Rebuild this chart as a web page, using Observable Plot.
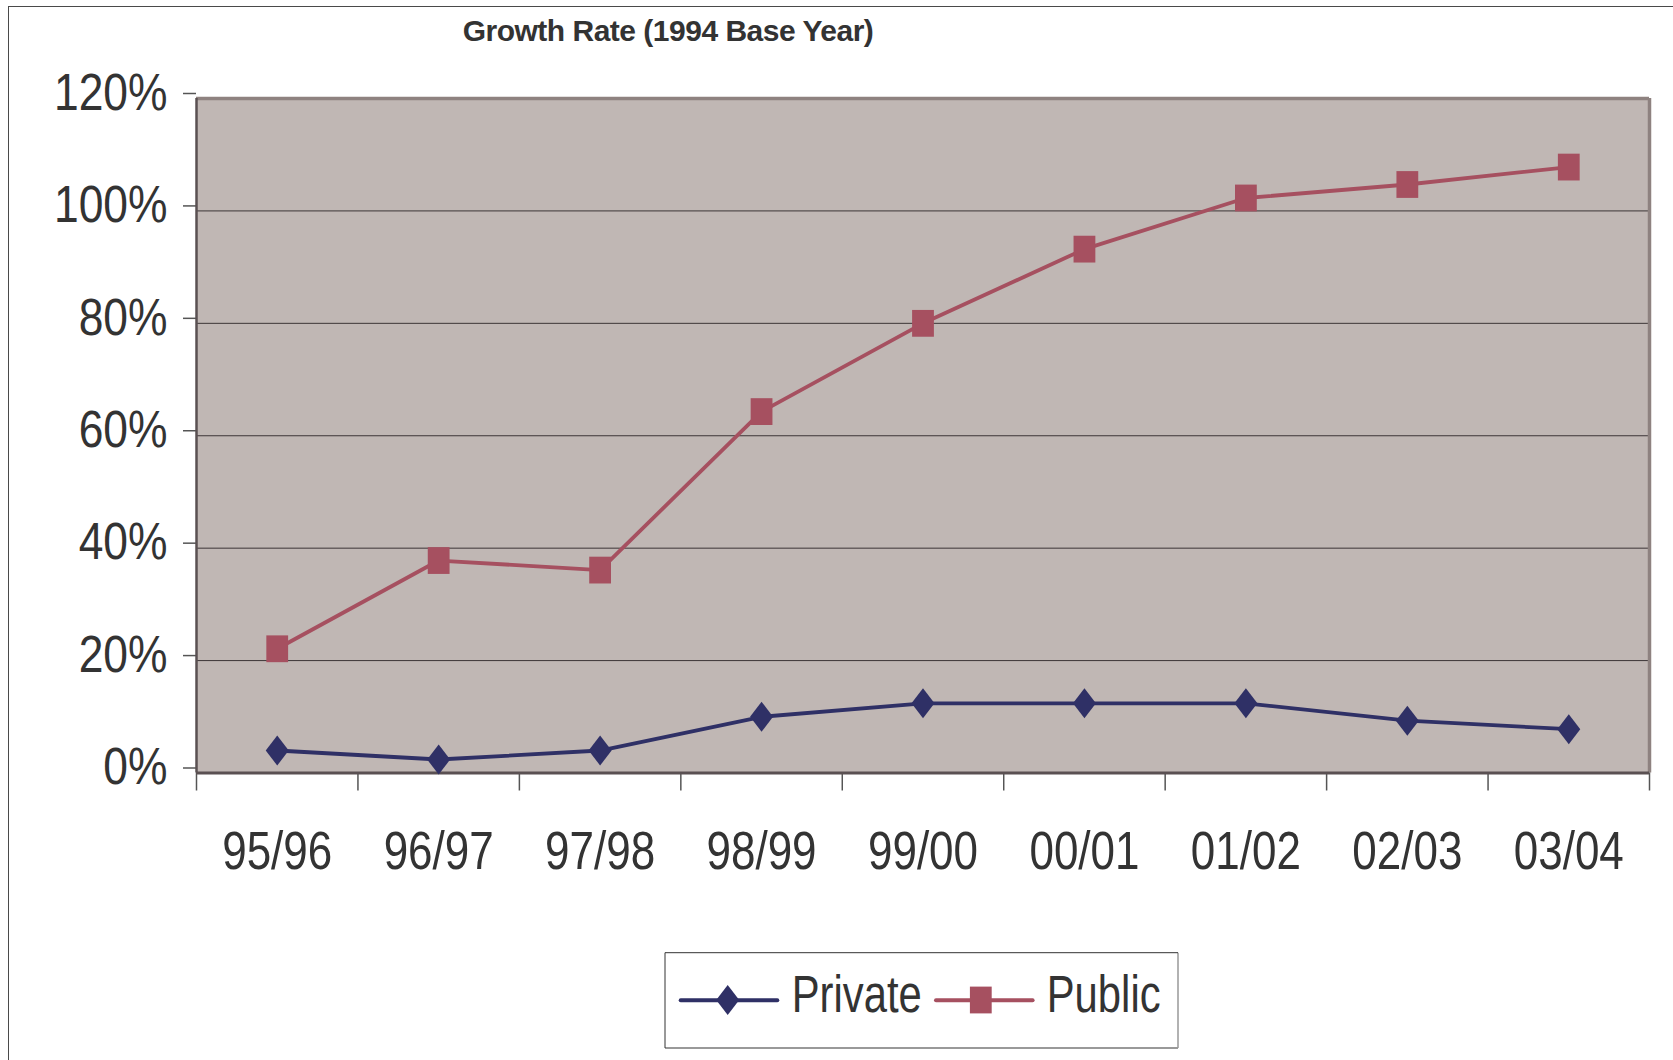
<!DOCTYPE html>
<html>
<head>
<meta charset="utf-8">
<script src="https://cdn.jsdelivr.net/npm/d3@7"></script>
<script src="https://cdn.jsdelivr.net/npm/@observablehq/plot@0.6"></script>
<style>
  html, body { margin: 0; padding: 0; background: #fff; overflow: hidden; }
  body { width: 1673px; height: 1060px; position: relative; font-family: "Liberation Sans", Arial, Helvetica, sans-serif; }
  #frame { position: absolute; left: 8px; top: 6px; width: 2000px; height: 2000px;
           border-left: 1.5px solid #4a4a4a; border-top: 1.5px solid #4a4a4a; }
  #title { position: absolute; left: 0; top: 15.8px; width: 1336px; text-align: center;
           font: bold 30px/1 "Liberation Sans", Arial, Helvetica, sans-serif; letter-spacing: -0.5px; color: #333; }
  #chart { position: absolute; left: 0; top: 60px; }
  #legend { position: absolute; left: 660px; top: 945px; }
</style>
</head>
<body>
<div id="frame"></div>
<div id="title">Growth Rate (1994 Base Year)</div>
<div id="chart"></div>
<svg id="legend" width="525" height="112"></svg>
<script>
// Academic years and growth relative to the 1994 base year (%)
const periods = ["95/96", "96/97", "97/98", "98/99", "99/00", "00/01", "01/02", "02/03", "03/04"];
const privateGrowth = [4.0, 2.4, 4.0, 10.0, 12.4, 12.4, 12.4, 9.3, 7.8];
const publicGrowth = [22.1, 37.8, 36.1, 64.3, 80.0, 93.2, 102.3, 104.7, 107.8];
const seriesNames = ["Private", "Public"];
const seriesColors = ["#2f3066", "#a65060"];
const yTicks = [0, 20, 40, 60, 80, 100, 120];

// Each period occupies one unit band; points sit at the band centre
const rows = periods.flatMap((period, i) => [
  {period, pos: i + 0.5, series: "Private", value: privateGrowth[i]},
  {period, pos: i + 0.5, series: "Public", value: publicGrowth[i]}
]);
const boundaries = periods.map((_, i) => i).concat(periods.length);
const centres = periods.map((_, i) => i + 0.5);

// Marker shapes: a tall diamond and a tall square block
const diamond = {draw(ctx) { ctx.moveTo(0, -15); ctx.lineTo(11.5, 0); ctx.lineTo(0, 15); ctx.lineTo(-11.5, 0); ctx.closePath(); }};
const block = {draw(ctx) { ctx.rect(-10.9, -13.4, 21.8, 26.8); }};

const chart = Plot.plot({
  width: 1673,
  height: 840,
  marginTop: 38,
  marginBottom: 127.5,
  marginLeft: 196,
  marginRight: 24,
  style: {background: "transparent", fontFamily: "'Liberation Sans', Arial, Helvetica, sans-serif", color: "#333"},
  x: {domain: [0, periods.length]},
  y: {domain: [0, 120]},
  color: {domain: seriesNames, range: seriesColors},
  symbol: {domain: seriesNames, range: [diamond, block]},
  marks: [
    Plot.frame({fill: "#c0b7b4", stroke: null}),
    Plot.ruleY(yTicks.slice(1, -1), {stroke: "#3c3537", strokeWidth: 1}),
    Plot.ruleY([120], {stroke: "#8e8280", strokeWidth: 3.5}),
    Plot.ruleX([periods.length], {stroke: "#8e8280", strokeWidth: 3.5}),
    Plot.axisY({ticks: yTicks, tickSize: 13, tickPadding: 16, tickFormat: d => d + "%", fontSize: 51, dy: -5, strokeWidth: 1.5, stroke: "#555", fill: "#333", label: null}),
    Plot.axisX({ticks: boundaries, tickSize: 18, tickFormat: () => "", strokeWidth: 1.5, stroke: "#555", label: null}),
    Plot.axisX({ticks: centres, tickSize: 0, tickPadding: 58, tickFormat: d => periods[Math.floor(d)], fontSize: 53, fill: "#333", label: null}),
    Plot.ruleX([0], {stroke: "#5a5052", strokeWidth: 2.5}),
    Plot.ruleY([0], {stroke: "#5a5052", strokeWidth: 3}),
    Plot.line(rows, {x: "pos", y: "value", z: "series", stroke: "series", strokeWidth: 3.8}),
    Plot.dot(rows, {x: "pos", y: "value", symbol: "series", fill: "series", stroke: null})
  ]
});
document.getElementById("chart").append(chart);

// Narrow the axis lettering horizontally
const narrow = (selector, k) => d3.select(chart).selectAll(selector)
  .attr("transform", function () { return (this.getAttribute("transform") || "") + ` scale(${k},1)`; });
narrow('g[aria-label="y-axis tick label"] text', 0.87);
narrow('g[aria-label="x-axis tick label"] text', 0.83);

// Legend box
const color = chart.scale("color");
const lg = d3.select("#legend");
lg.append("rect").attr("x", 5).attr("y", 7.7).attr("width", 513).attr("height", 95.3).attr("fill", "#fff");
lg.append("line").attr("x1", 5).attr("y1", 103).attr("x2", 518).attr("y2", 103).attr("stroke", "#999").attr("stroke-width", 2);
lg.append("line").attr("x1", 518).attr("y1", 7.7).attr("x2", 518).attr("y2", 103).attr("stroke", "#999").attr("stroke-width", 1.5);
lg.append("line").attr("x1", 5).attr("y1", 7.7).attr("x2", 518).attr("y2", 7.7).attr("stroke", "#333").attr("stroke-width", 1);
lg.append("line").attr("x1", 5).attr("y1", 7.7).attr("x2", 5).attr("y2", 103).attr("stroke", "#333").attr("stroke-width", 1);

const entries = [
  {name: seriesNames[0], lineX: 20.7, markX: 67.7, textX: 131.7, shape: "M0,-15L11.5,0L0,15L-11.5,0Z"},
  {name: seriesNames[1], lineX: 276, markX: 320.8, textX: 386.7, shape: "M-10.9,-13.4h21.8v26.8h-21.8Z"}
];
for (const e of entries) {
  const c = color.apply(e.name);
  lg.append("line").attr("x1", e.lineX).attr("x2", e.lineX + 96.6).attr("y1", 55.3).attr("y2", 55.3)
    .attr("stroke", c).attr("stroke-width", 4).attr("stroke-linecap", "round");
  lg.append("path").attr("d", e.shape).attr("transform", `translate(${e.markX},55)`).attr("fill", c);
  lg.append("text").attr("transform", `translate(${e.textX},66.7) scale(0.82,1)`)
    .attr("font-size", 51).attr("fill", "#333")
    .attr("font-family", "'Liberation Sans', Arial, Helvetica, sans-serif").text(e.name);
}
</script>
</body>
</html>
